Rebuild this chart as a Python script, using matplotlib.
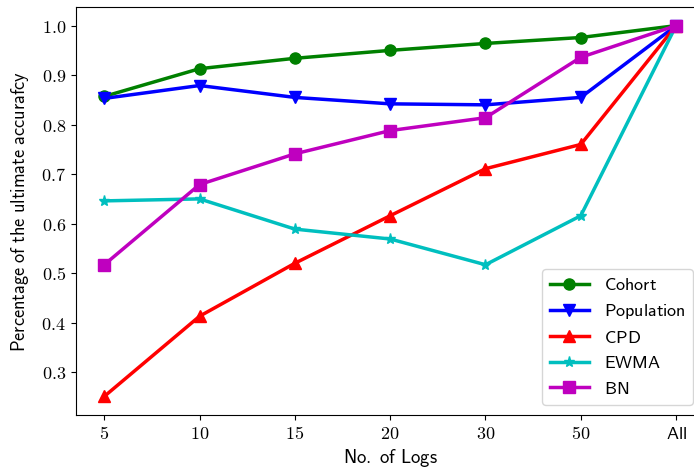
import matplotlib
matplotlib.use("Agg")
import matplotlib.pyplot as plt
from matplotlib.ticker import FuncFormatter

plt.rcParams['mathtext.fontset'] = 'cm'

categories = ['5', '10', '15', '20', '30', '50', 'All']
cohort = [0.857, 0.913, 0.934, 0.950, 0.964, 0.976, 1.0]
population = [0.853, 0.879, 0.855, 0.842, 0.840, 0.855, 1.0]
cpd = [0.251, 0.413, 0.520, 0.616, 0.711, 0.760, 1.0]
ewma = [0.646, 0.650, 0.589, 0.569, 0.517, 0.616, 1.0]
bn = [0.517, 0.679, 0.741, 0.788, 0.814, 0.936, 1.0]

series = [
    ('Cohort', cohort, 'g', 'o'),
    ('Population', population, 'b', 'v'),
    ('CPD', cpd, 'r', '^'),
    ('EWMA', ewma, 'c', '*'),
    ('BN', bn, 'm', 's'),
]

fig = plt.figure(figsize=(6.94, 4.72), dpi=100)
ax = fig.add_axes([0.109, 0.1208, 1.0154 - 0.109, 0.985 - 0.1208])
x = list(range(len(categories)))
for name, vals, c, m in series:
    ax.plot(x, vals, color=c, marker=m, lw=2.5, ms=8, label=r'$\mathsf{%s}$' % name)

ax.set_xticks(x)
ax.set_xticklabels([r'$\mathsf{%s}$' % c for c in categories], fontsize=13)
ax.yaxis.set_major_formatter(FuncFormatter(lambda v, p: r'$%.1f$' % v))
ax.tick_params(axis='y', labelsize=13)
ax.set_xlabel(r'$\mathsf{No.\ of\ Logs}$', fontsize=13.5, labelpad=3)
ax.set_ylabel(r'$\mathsf{Percentage\ of\ the\ ultimate\ accurafcy}$', fontsize=13.2, labelpad=7)
ax.legend(loc='lower right', bbox_to_anchor=(0.981, 0.0245), borderaxespad=0, fontsize=13,
          handlelength=2.2, labelspacing=0.42)
fig.savefig('out.png', dpi=100)
